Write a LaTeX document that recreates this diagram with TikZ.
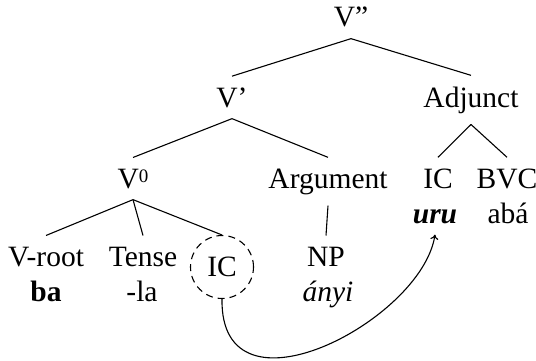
\documentclass[tikz,border=0pt]{standalone}
\usepackage{fontspec}
\setmainfont{Liberation Serif}
\usetikzlibrary{arrows.meta}
\begin{document}
\begin{tikzpicture}[x=1pt,y=-1pt,
  lbl/.style={font=\fontsize{29.5}{35}\selectfont, inner xsep=0pt, inner ysep=11pt, anchor=base},
  edge/.style={line width=1.1pt},
  dashcirc/.style={circle, draw, line width=1.1pt, dash pattern=on 7pt off 5pt,
    minimum size=63pt, inner sep=0pt, font=\fontsize{29.5}{35}\selectfont}]
\useasboundingbox (0,0) rectangle (536,361);
\node[lbl] (vpp) at (351,27) {V”};
\node[lbl] (vp) at (232,107) {V’};
\node[lbl] (adj) at (471,107) {Adjunct};
\node[lbl] (v0) at (133,188) {V\raisebox{6pt}{\fontsize{19}{19}\selectfont 0}};
\node[lbl] (arg) at (328,188) {Argument};
\node[lbl] (icr) at (438,188) {IC};
\node[lbl] (bvc) at (507,188) {BVC};
\node[lbl] (uru) at (435,223) {\textbf{\textit{uru}}};
\node[lbl] (aba) at (508,223) {abá};
\node[lbl] (vroot) at (46,266) {V-root};
\node[lbl] (ba) at (46,301) {\textbf{ba}};
\node[lbl] (tense) at (143,266) {Tense};
\node[lbl] (la) at (142,301) {-la};
\node[dashcirc] (icc) at (222,267) {IC};
\node[lbl] (np) at (326,266) {NP};
\node[lbl] (anyi) at (328,301) {\textit{ányi}};
\draw[edge] (vpp.south) -- (vp.north);
\draw[edge] (vpp.south) -- (adj.north);
\draw[edge] (vp.south) -- (v0.north);
\draw[edge] (vp.south) -- (arg.north);
\draw[edge] (adj.south) -- (icr.north);
\draw[edge] (adj.south) -- (bvc.north);
\draw[edge] (v0.south) -- (vroot.north);
\draw[edge] (v0.south) -- (tense.north);
\draw[edge] (v0.south) -- (icc.north);
\draw[edge] (arg.south) -- (np.north);
\draw[edge, -{To[length=5pt,width=8pt]}] (icc.south) .. controls +(-2,127) and +(-13,86) .. (uru.south);
\end{tikzpicture}
\end{document}
